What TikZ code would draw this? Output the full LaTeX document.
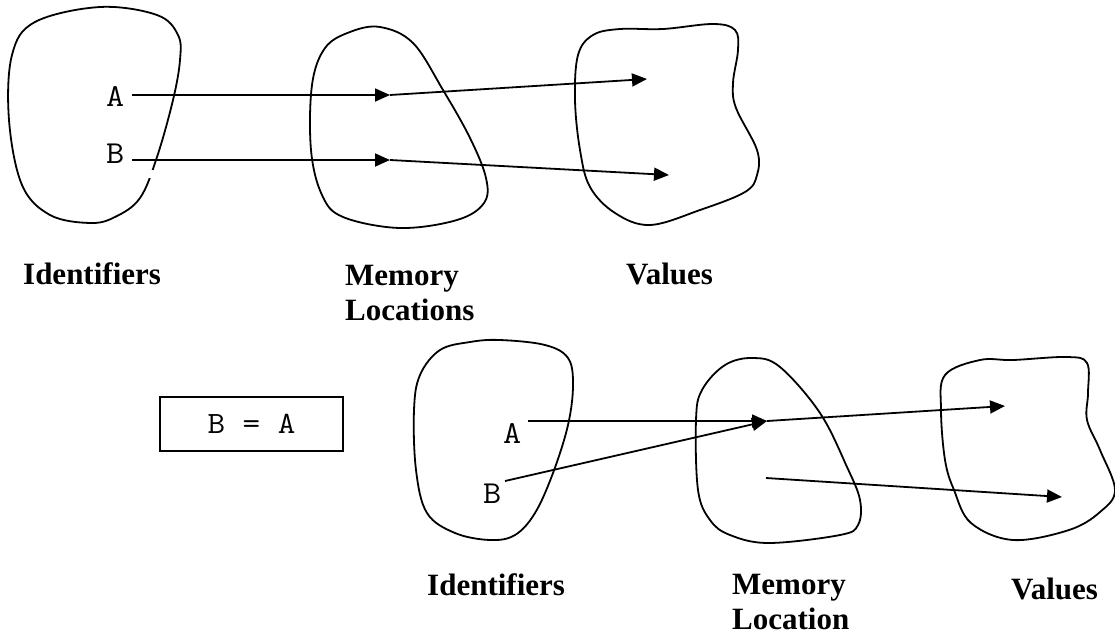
\documentclass[tikz,border=0pt]{standalone}
\usepackage{fontspec}
\setmainfont{Liberation Serif}
\newfontfamily\idfont{Latin Modern Mono}[FakeStretch=1.1]
\usetikzlibrary{arrows.meta}

\begin{document}
\begin{tikzpicture}[x=1pt,y=-1pt,
  blob/.style={draw=black, line width=1.8pt},
  conn/.style={draw=black, line width=1.8pt, -{Triangle[length=15pt,width=13pt]}},
  setlabel/.style={font=\fontsize{31}{35}\selectfont\bfseries, inner sep=0pt, align=left},
  idtext/.style={font=\idfont\fontsize{32}{32}\selectfont, inner sep=0pt},
  codebox/.style={draw=black, line width=1.8pt, minimum width=183pt, minimum height=54pt,
    inner sep=0pt, font=\idfont\fontsize{31}{31}\selectfont},
]
\useasboundingbox (0,0) rectangle (1115,637);

% ---------- before the assignment ----------
% identifiers
\draw[blob] plot[smooth cycle, tension=0.6] coordinates {
  (100,7) (157,15) (178,35) (180,60) (173,100) (157,157) (140,198) (115,217)
  (90,223) (50,215) (22,185) (9,120) (12,55) (35,22)};
% small break in the outline below the B arrow
\fill[white] (146,170) rectangle (162,177.5);
% memory locations
\draw[blob] plot[smooth cycle, tension=0.6] coordinates {
  (380,27) (413,43) (443,90) (470,138) (486,178) (484,203) (457,220) (400,228)
  (343,217) (322,195) (311,150) (312,85) (325,48) (350,32)};
% values
\draw[blob] plot[smooth cycle, tension=0.6] coordinates {
  (578,55) (593,35) (620,29) (663,29) (713,24) (735,30) (738,50) (733,83)
  (736,108) (757,150) (757,175) (745,192) (700,210) (650,225) (615,213)
  (590,187) (580,150) (575,100)};

\node[idtext, anchor=base west] (idA1) at (106,106) {A};
\node[idtext, anchor=base west] (idB1) at (106,163) {B};

\coordinate (srcA1) at (132,95);
\coordinate (srcB1) at (132,160);
\coordinate (locA1) at (390,95);
\coordinate (locB1) at (390,160);
\coordinate (valA1) at (647,79);
\coordinate (valB1) at (669,175);

\draw[conn] (srcA1) -- (locA1);
\draw[conn] (srcB1) -- (locB1);
\draw[conn] (locA1) -- (valA1);
\draw[conn] (locB1) -- (valB1);

\node[setlabel, anchor=base west] (idsTop) at (23,284) {Identifiers};
\node[setlabel, anchor=north west] (memTop) at (345,264.7) {Memory\\Locations};
\node[setlabel, anchor=base west] (valTop) at (626,284) {Values};

% ---------- after the assignment ----------
\node[codebox] (assign) at (251.5,424) {B = A};

% identifiers
\draw[blob] plot[smooth cycle, tension=0.6] coordinates {
  (500,340) (545,345) (568,358) (573,385) (568,425) (553,473) (535,513) (515,535)
  (490,540) (455,533) (427,513) (416,470) (414,410) (420,375) (440,350) (470,342)};
% memory location
\draw[blob] plot[smooth cycle, tension=0.6] coordinates {
  (753,358) (780,367) (820,413) (847,467) (860,500) (858,525) (840,535) (769,543)
  (730,535) (710,520) (698,490) (696,420) (702,390) (725,365)};
% values
\draw[blob] plot[smooth cycle, tension=0.6] coordinates {
  (980,360) (1013,360) (1067,357) (1087,363) (1088,393) (1087,420) (1100,450)
  (1115,490) (1100,512) (1069,530) (1013,540) (971,523) (954,490) (945,460)
  (941,410) (945,375)};

\node[idtext, anchor=base west] (idA2) at (503,443) {A};
\node[idtext, anchor=base west] (idB2) at (483,503) {B};

\coordinate (srcA2) at (528,421);
\coordinate (srcB2) at (505,481);
\coordinate (loc2) at (767,421);
\coordinate (locOld) at (766,478);
\coordinate (valA2) at (1005,406);
\coordinate (valB2) at (1062,497);

\draw[conn] (srcA2) -- (loc2);
\draw[conn] (srcB2) -- (loc2);
\draw[conn] (loc2) -- (valA2);
\draw[conn] (locOld) -- (valB2);

\node[setlabel, anchor=base west] (idsBot) at (427,595) {Identifiers};
\node[setlabel, anchor=north west] (memBot) at (732,573.7) {Memory\\Location};
\node[setlabel, anchor=base west] (valBot) at (1011,599) {Values};
\end{tikzpicture}
\end{document}
